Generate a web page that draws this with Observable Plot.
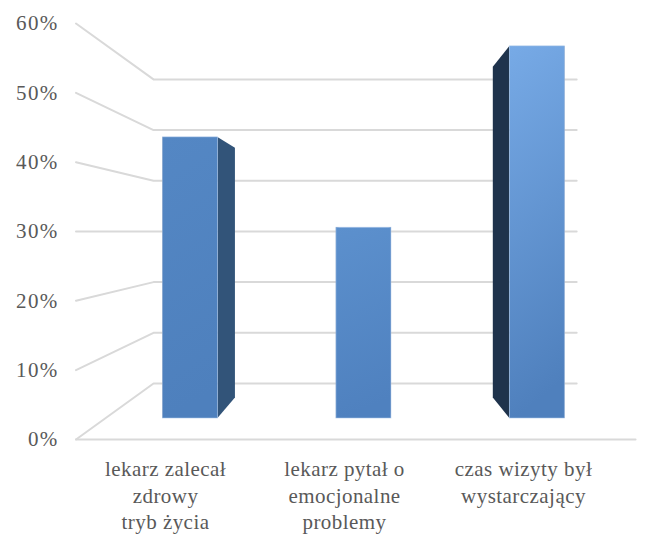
<!DOCTYPE html>
<html>
<head>
<meta charset="utf-8">
<script src="https://cdn.jsdelivr.net/npm/d3@7"></script>
<script src="https://cdn.jsdelivr.net/npm/@observablehq/plot@0.6"></script>
<style>
  html, body { margin: 0; padding: 0; background: #fff; }
  #chart { width: 648px; height: 534px; }
  #chart g[aria-label="y-axis tick label"] text { letter-spacing: 1.3px; }
  #chart g[aria-label="text"] text { letter-spacing: 0.45px; }
</style>
</head>
<body>
<div id="chart"></div>
<script>
// ---- data ----
const categories = [
  "lekarz zalecał\nzdrowy\ntryb życia",
  "lekarz pytał o\nemocjonalne\nproblemy",
  "czas wizyty był\nwystarczający"
];
const values = [0.451, 0.306, 0.597];
const tickValues = [0, 0.1, 0.2, 0.3, 0.4, 0.5, 0.6];

// ---- pseudo-3D planes (expressed in front-plane data units) ----
const planes = {
  wall:      {x0: 0.433, xs: 0.788, y0: 0.0808, ys: 0.731},
  barFront:  {x0: 0.155, xs: 0.969, y0: 0.0303, ys: 0.899},
  barBack:   {x0: 0.327, xs: 0.856, y0: 0.0599, ys: 0.799}
};
const proj = (p, u, v) => ({x: p.x0 + p.xs * u, y: p.y0 + p.ys * v});
const nCat = categories.length;
const floorEnd = 3.126;
const halfW = 0.1585;

// gridlines: front-left axis point -> back wall corner -> back wall right end
const grid = tickValues.flatMap(t => [
  {x: 0, y: t, z: t},
  {...proj(planes.wall, 0, t), z: t},
  {...proj(planes.wall, nCat, t), z: t}
]);
const floor = [{x: 0, y: 0}, {x: floorEnd, y: 0}];

const bars = values.map((v, i) => {
  const uc = i + 0.5;
  return {
    i,
    x1: proj(planes.barFront, uc - halfW, 0).x,
    x2: proj(planes.barFront, uc + halfW, 0).x,
    y1: proj(planes.barFront, 0, 0).y,
    y2: proj(planes.barFront, 0, v).y
  };
});
function side(edge) {
  return values.flatMap((v, i) => {
    const u = i + 0.5 + edge * halfW;
    return [
      {x: proj(planes.barFront, u, 0).x, y1: proj(planes.barFront, u, 0).y, y2: proj(planes.barFront, u, v).y, z: i},
      {x: proj(planes.barBack, u, 0).x, y1: proj(planes.barBack, u, 0).y, y2: proj(planes.barBack, u, v).y, z: i}
    ];
  });
}
const rightSides = side(1);
const leftSides = side(-1);

const gradStops = [
  ["#5487c4", "#4e80bd"],
  ["#5c90cd", "#4f81bf"],
  ["#77aae6", "#4f80bd"]
];

const defs = () => {
  const ns = "http://www.w3.org/2000/svg";
  const d = document.createElementNS(ns, "defs");
  gradStops.forEach((s, i) => {
    const g = document.createElementNS(ns, "linearGradient");
    g.setAttribute("id", "bg" + i);
    g.setAttribute("x1", "0"); g.setAttribute("y1", "0");
    g.setAttribute("x2", "0.12"); g.setAttribute("y2", "1");
    [[0, s[0]], [1, s[1]]].forEach(([o, c]) => {
      const st = document.createElementNS(ns, "stop");
      st.setAttribute("offset", o);
      st.setAttribute("stop-color", c);
      g.appendChild(st);
    });
    d.appendChild(g);
  });
  return d;
};

const labels = categories.map((c, i) => ({u: i + 0.5, v: 0, t: c}));

const chart = Plot.plot({
  width: 648,
  height: 534,
  marginLeft: 75.5,
  marginRight: 35.5,
  marginTop: 23,
  marginBottom: 95,
  style: {fontFamily: "'Liberation Serif', 'Times New Roman', serif", fontSize: "21px", color: "#595959", background: "#fff"},
  x: {domain: [0, nCat], axis: null},
  y: {domain: [0, 0.6], ticks: tickValues, tickFormat: d3.format(".0%"), tickSize: 0, tickPadding: 17.5, label: null},
  marks: [
    defs,
    Plot.line(grid, {x: "x", y: "y", z: "z", stroke: "#d9d9d9", strokeWidth: 2, curve: "linear"}),
    Plot.line(floor, {x: "x", y: "y", stroke: "#d9d9d9", strokeWidth: 2}),
    Plot.areaY(rightSides, {x: "x", y1: "y1", y2: "y2", z: "z", fill: "#325479"}),
    Plot.areaY(leftSides, {x: "x", y1: "y1", y2: "y2", z: "z", fill: "#1f334c"}),
    ...bars.map(b => Plot.rect([b], {x1: "x1", x2: "x2", y1: "y1", y2: "y2", fill: `url(#bg${b.i})`, stroke: "#a6c3e8", strokeWidth: 0.8, strokeOpacity: 0.7})),
    Plot.text(labels, {x: "u", y: "v", text: "t", lineAnchor: "top", dy: 18, lineHeight: 1.26, fill: "#595959", fontSize: 21})
  ]
});
document.getElementById("chart").appendChild(chart);
</script>
</body>
</html>
